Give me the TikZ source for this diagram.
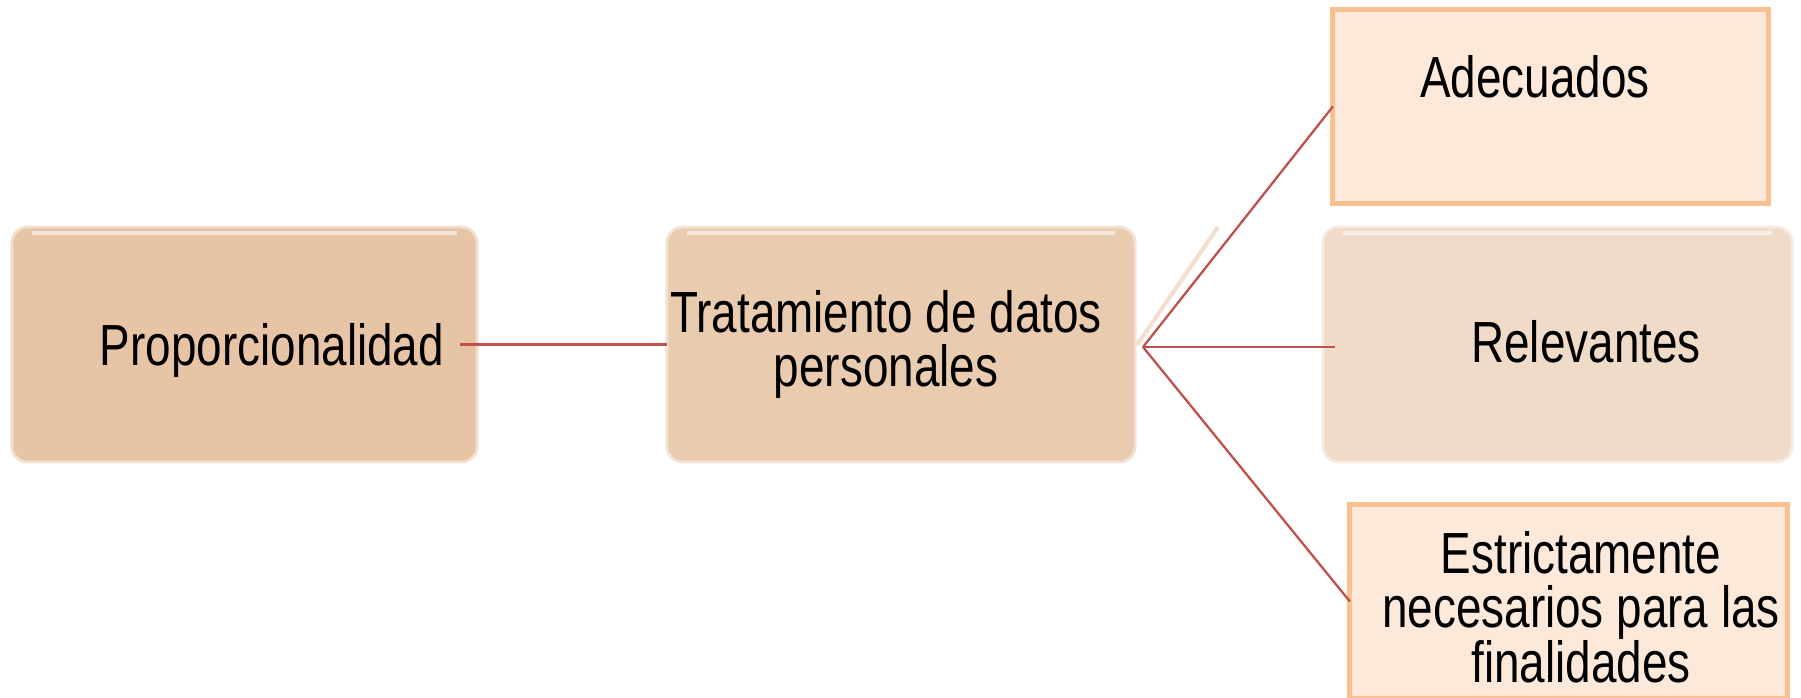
\documentclass[tikz,border=0pt]{standalone}
\usepackage{fontspec}
\setmainfont{Liberation Sans}[FakeStretch=0.79]
\definecolor{propfill}{HTML}{E8C4A6}
\definecolor{tratfill}{HTML}{E9CBB0}
\definecolor{relfill}{HTML}{F0DAC8}
\definecolor{leaffill}{HTML}{FDE9D9}
\definecolor{leafline}{HTML}{FAC090}
\definecolor{linkred}{HTML}{C0504D}
\definecolor{ghost}{HTML}{F2DFCF}

\begin{document}
\begin{tikzpicture}[
    x=0.01cm, y=-0.01cm,
    glossy/.style={rounded corners=0.16cm, draw=white!45!#1, line width=0.8pt, fill=#1,
        inner sep=0pt, outer sep=0pt, minimum height=2.35cm},
    leaf/.style={draw=leafline, line width=1.4pt, fill=leaffill,
        inner sep=0pt, outer sep=0pt, minimum width=4.35cm, minimum height=1.93cm},
    label/.style={inner sep=0pt, align=center, text=black,
        font=\fontsize{16.5}{15.4}\selectfont},
    link/.style={draw=linkred, line width=0.65pt}
]
\useasboundingbox (0,0) rectangle (1801,697);

% Boxes
\node[glossy=propfill, minimum width=4.65cm] (prop) at (244.5,344.5) {};
\node[glossy=tratfill, minimum width=4.68cm] (trat) at (901,344.5) {};
\node[leaf] (ade) at (1550.5,106.5) {};
\node[glossy=relfill, minimum width=4.69cm] (rel) at (1557.5,344.5) {};
\node[leaf, minimum width=4.37cm] (est) at (1568.5,601.5) {};

% Highlights
\foreach \b in {prop,trat,rel} {
    \draw[white, opacity=0.55, line width=1.2pt]
        ([xshift=0.2cm,yshift=-0.06cm]\b.north west) -- ([xshift=-0.2cm,yshift=-0.06cm]\b.north east);
}

% Labels
\node[label, anchor=base] (propT) at (272,365) {Proporcionalidad};
\node[label, anchor=north] (tratT) at (886,290) {Tratamiento de datos\\personales};
\node[label, anchor=base] (adeT) at (1535,97) {Adecuados};
\node[label, anchor=base] (relT) at (1586,362) {Relevantes};
\node[label, anchor=north] (estT) at (1581,531) {Estrictamente\\necesarios para las\\finalidades};

% Connections
\coordinate (hub) at (1143,347);
\draw[ghost, line width=1.2pt] (1137,345) -- (1218,227);
\draw[link] ([xshift=-0.17cm]prop.east) -- (trat.west);
\draw[link] (hub) -- (ade.west);
\draw[link] (hub) -- ([xshift=0.12cm]hub -| rel.west);
\draw[link] (hub) -- (est.west);
\end{tikzpicture}
\end{document}
